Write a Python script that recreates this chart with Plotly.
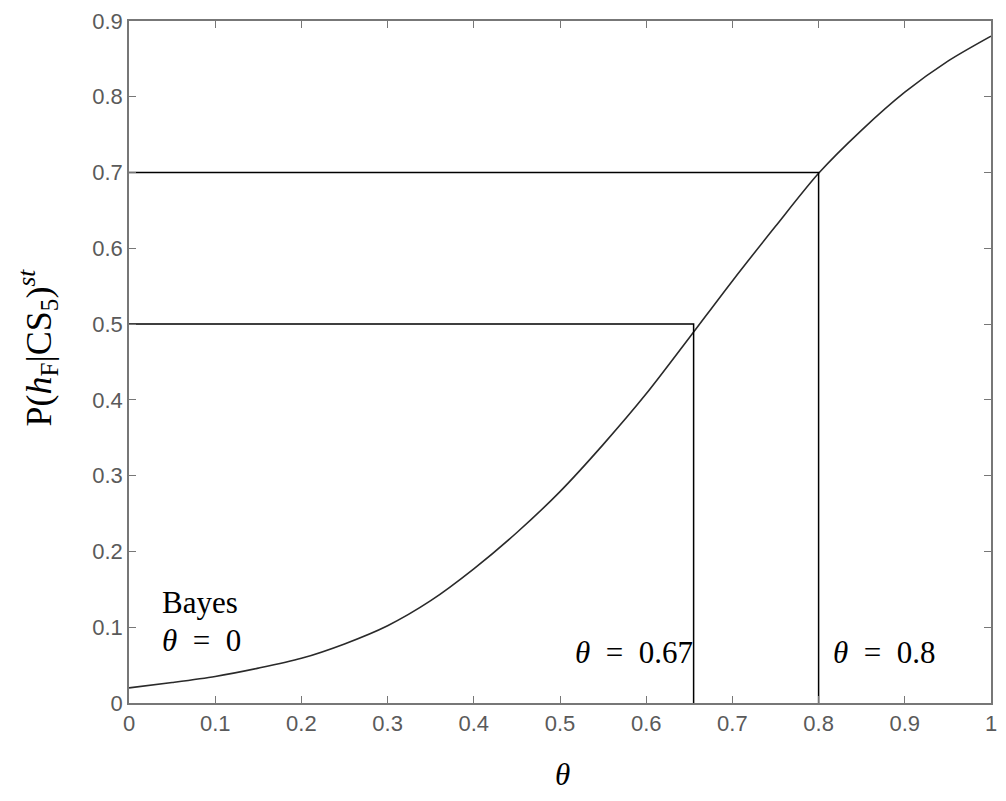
import plotly.graph_objects as go

# Curve data
theta = [0.0, 0.05, 0.1, 0.15, 0.2, 0.25, 0.3, 0.35, 0.4, 0.45, 0.5,
         0.55, 0.6, 0.65, 0.7, 0.75, 0.8, 0.85, 0.9, 0.95, 1.0]
prob = [0.020, 0.027, 0.035, 0.046, 0.059, 0.078, 0.102, 0.135, 0.177, 0.225, 0.279,
        0.341, 0.408, 0.482, 0.557, 0.629, 0.699, 0.756, 0.806, 0.847, 0.880]

# Reference (threshold) lines
ref_theta = [0.655, 0.8]
ref_prob = [0.5, 0.7]

x_ticks = [0, 0.1, 0.2, 0.3, 0.4, 0.5, 0.6, 0.7, 0.8, 0.9, 1]
x_tick_labels = ["0", "0.1", "0.2", "0.3", "0.4", "0.5", "0.6", "0.7", "0.8", "0.9", "1"]
y_ticks = [0, 0.1, 0.2, 0.3, 0.4, 0.5, 0.6, 0.7, 0.8, 0.9]
y_tick_labels = ["0", "0.1", "0.2", "0.3", "0.4", "0.5", "0.6", "0.7", "0.8", "0.9"]

fig = go.Figure()

fig.add_trace(go.Scatter(x=theta, y=prob, mode="lines",
                         line=dict(color="#2a2a2a", width=1.6, shape="spline", smoothing=0.8),
                         showlegend=False, hoverinfo="skip"))

for tx, py in zip(ref_theta, ref_prob):
    fig.add_trace(go.Scatter(x=[0, tx, tx], y=[py, py, 0], mode="lines",
                             line=dict(color="black", width=1.5), showlegend=False, hoverinfo="skip"))

serif = "Liberation Serif, Times New Roman, serif"
axis_common = dict(showline=True, linecolor="#777777", linewidth=1.5, mirror="ticks",
                   ticks="inside", ticklen=7, tickwidth=1.2, tickcolor="#777777",
                   showgrid=False, zeroline=False,
                   tickfont=dict(family="Liberation Sans, Arial, sans-serif", size=22, color="#5a5a5a"))

fig.update_xaxes(range=[0, 1], tickvals=x_ticks, ticktext=x_tick_labels, **axis_common)
fig.update_yaxes(range=[0, 0.9], tickvals=y_ticks, ticktext=y_tick_labels, **axis_common)

# Axis titles as annotations for precise placement
fig.add_annotation(xref="paper", yref="paper", x=0.503, y=-0.105, text="<i>θ</i>", showarrow=False,
                   xanchor="center", yanchor="middle", font=dict(family=serif, size=31, color="black"))
fig.add_annotation(xref="paper", yref="paper", x=-0.105, y=0.522, textangle=-90,
                   text="P(<i>h</i><sub>F</sub>|CS<sub>5</sub>)<sup><i>st</i></sup>", showarrow=False,
                   xanchor="center", yanchor="middle", font=dict(family=serif, size=36, color="black"))

ann_font = dict(family=serif, size=31, color="black")
fig.add_annotation(x=0.036, y=0.132, xref="x", yref="y", text="Bayes", showarrow=False,
                   xanchor="left", yanchor="middle", font=ann_font)
fig.add_annotation(x=0.036, y=0.082, xref="x", yref="y", text="<i>θ</i>\u2002=\u20020", showarrow=False,
                   xanchor="left", yanchor="middle", font=ann_font)
fig.add_annotation(x=0.657, y=0.066, xref="x", yref="y", text="<i>θ</i>\u2002=\u20020.67", showarrow=False,
                   xanchor="right", yanchor="middle", font=ann_font)
fig.add_annotation(x=0.814, y=0.066, xref="x", yref="y", text="<i>θ</i>\u2002=\u20020.8", showarrow=False,
                   xanchor="left", yanchor="middle", font=ann_font)

fig.update_layout(width=1006, height=801, plot_bgcolor="white", paper_bgcolor="white",
                  margin=dict(l=129, r=9, t=16, b=98))

fig.write_html("out.html")
